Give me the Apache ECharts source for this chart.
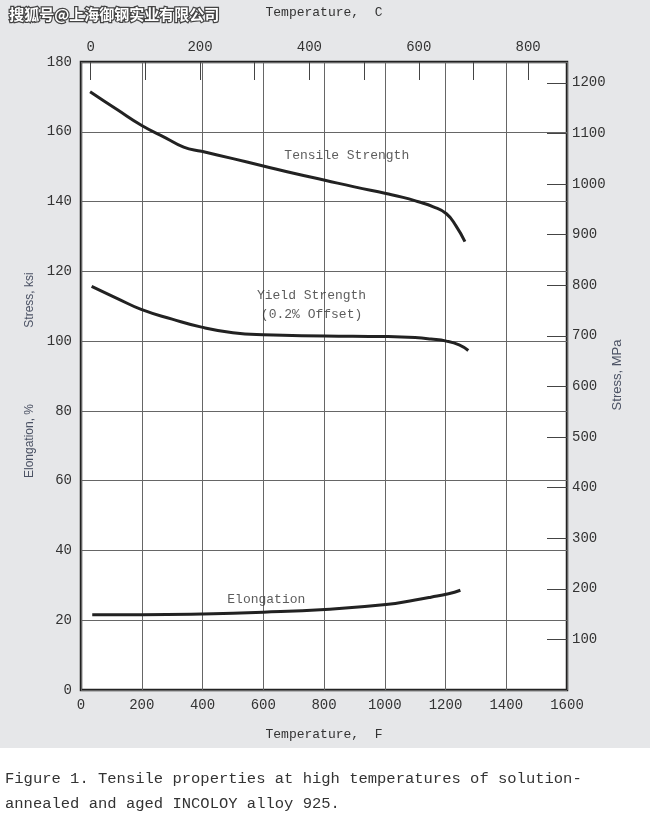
<!DOCTYPE html>
<html>
<head>
<meta charset="utf-8">
<script src="https://cdn.jsdelivr.net/npm/echarts@6/dist/echarts.min.js"></script>
<style>
body{margin:0;background:#fff;}
#echart{width:650px;height:814px;}
</style>
</head>
<body>
<div id="echart"></div>
<script>
// temperature F / ksi
var tensileF   = [30, 120, 200, 280, 338, 397, 500, 600, 700, 803, 900, 1004, 1060, 1108, 1160, 1203, 1234, 1264];
var tensileKsi = [171.5, 166.3, 161.8, 158.2, 155.6, 154.4, 152.3, 150.2, 148.1, 146.1, 144.2, 142.3, 141.2, 140, 138.5, 136.5, 133.1, 128.5];
var yieldF     = [35, 120, 198, 300, 397, 500, 600, 803, 1004, 1100, 1152, 1203, 1245, 1275];
var yieldKsi   = [115.7, 112.2, 109.1, 106.3, 104, 102.4, 101.8, 101.5, 101.3, 101, 100.6, 100, 98.9, 97.3];
var elongF     = [37, 200, 397, 600, 803, 1004, 1100, 1152, 1210, 1249];
var elongPct   = [21.6, 21.6, 21.8, 22.3, 23.1, 24.5, 25.8, 26.6, 27.6, 28.6];

var celsiusTicks  = [0, 100, 200, 300, 400, 500, 600, 700, 800];
var celsiusLabels = [0, 200, 400, 600, 800];
var mpaTicks      = [100, 200, 300, 400, 500, 600, 700, 800, 900, 1000, 1100, 1200];

var curveNames = ['Tensile Strength', 'Yield Strength', '(0.2% Offset)', 'Elongation'];
var curveNameF = [875, 759, 759, 610];
var curveNameY = [153.2, 113, 107.7, 26];

function pairs(xs, ys){
	var out = [];
	for (var i = 0; i < xs.length; i++) out.push([xs[i], ys[i]]);
	return out;
}
function plain(v){ return String(v); }

var mono = '"Liberation Mono", "DejaVu Sans Mono", monospace';
var lineCol = '#222';

var names = [];
for (var i = 0; i < curveNames.length; i++) names.push([curveNameF[i], curveNameY[i], curveNames[i]]);

var myChart = echarts.init(document.getElementById('echart'));
myChart.setOption({
	backgroundColor: '#fff',
	animation: false,
	graphic: [
		{type: 'rect', z: -10, shape: {x: 0, y: 0, width: 650, height: 748}, style: {fill: '#e6e7e9'}},
		{type: 'text', left: 8, top: 6, style: {text: '搜狐号@上海御钢实业有限公司', fill: '#fff', stroke: '#444', lineWidth: 2.5,
			font: 'bold 15px "Noto Sans CJK SC"'}},
		{type: 'text', x: 30, y: 300, rotation: Math.PI / 2, style: {text: 'Stress, ksi', fill: '#4b5264',
			font: '12px "Liberation Sans Narrow", "Liberation Sans", sans-serif', align: 'center', verticalAlign: 'middle'}},
		{type: 'text', x: 30, y: 441, rotation: Math.PI / 2, style: {text: 'Elongation, %', fill: '#4b5264',
			font: '12px "Liberation Sans Narrow", "Liberation Sans", sans-serif', align: 'center', verticalAlign: 'middle'}},
		{type: 'text', x: 617, y: 375, rotation: Math.PI / 2, style: {text: 'Stress, MPa', fill: '#4b5264',
			font: '13px "Liberation Sans", sans-serif', align: 'center', verticalAlign: 'middle'}},
		{type: 'text', left: 5, top: 766, style: {text: 'Figure 1. Tensile properties at high temperatures of solution-\nannealed and aged INCOLOY alloy 925.',
			fill: '#333', font: '15.5px ' + mono, lineHeight: 25}}
	],
	grid: {left: 81, right: 83, top: 62, bottom: 124, show: true, backgroundColor: '#fff',
		borderColor: '#222', borderWidth: 2.5},
	xAxis: [
		{type: 'value', position: 'bottom', min: 0, max: 1600, interval: 200,
			name: 'Temperature,  F', nameLocation: 'middle', nameGap: 38,
			nameTextStyle: {fontFamily: mono, fontSize: 13, color: '#333'},
			axisLine: {show: false, onZero: false}, axisTick: {show: false},
			axisLabel: {fontFamily: mono, fontSize: 14, color: '#333', margin: 8, formatter: plain},
			splitLine: {show: true, lineStyle: {color: '#666', width: 1}}},
		{type: 'value', position: 'top', min: -160 / 9, max: (1600 - 32) * 5 / 9,
			name: 'Temperature,  C', nameLocation: 'middle', nameGap: 43,
			nameTextStyle: {fontFamily: mono, fontSize: 13, color: '#333'},
			axisLine: {show: false, onZero: false},
			axisTick: {show: true, inside: true, length: 18, customValues: celsiusTicks, lineStyle: {color: '#444'}},
			axisLabel: {fontFamily: mono, fontSize: 14, color: '#333', margin: 8, customValues: celsiusLabels, formatter: plain},
			splitLine: {show: false}}
	],
	yAxis: [
		{type: 'value', position: 'left', min: 0, max: 180, interval: 20,
			axisLine: {show: false, onZero: false}, axisTick: {show: false},
			axisLabel: {fontFamily: mono, fontSize: 14, color: '#333', margin: 9, formatter: plain},
			splitLine: {show: true, lineStyle: {color: '#666', width: 1}}},
		{type: 'value', position: 'right', min: 0, max: 180 * 6.894757,
			axisLine: {show: false, onZero: false},
			axisTick: {show: true, inside: true, length: 20, customValues: mpaTicks, lineStyle: {color: '#444'}},
			axisLabel: {fontFamily: mono, fontSize: 14, color: '#333', margin: 5, customValues: mpaTicks, formatter: plain},
			splitLine: {show: false}}
	],
	series: [
		{type: 'line', smooth: 0.5, symbol: 'none', data: pairs(tensileF, tensileKsi),
			lineStyle: {color: lineCol, width: 3}},
		{type: 'line', smooth: 0.5, symbol: 'none', data: pairs(yieldF, yieldKsi),
			lineStyle: {color: lineCol, width: 3}},
		{type: 'line', smooth: 0.5, symbol: 'none', data: pairs(elongF, elongPct),
			lineStyle: {color: lineCol, width: 3}},
		{type: 'scatter', symbolSize: 0, data: names, silent: true,
			label: {show: true, position: 'inside', formatter: function (p) { return p.value[2]; },
				fontFamily: mono, fontSize: 13, color: '#333'}}
	]
});
</script>
</body>
</html>
